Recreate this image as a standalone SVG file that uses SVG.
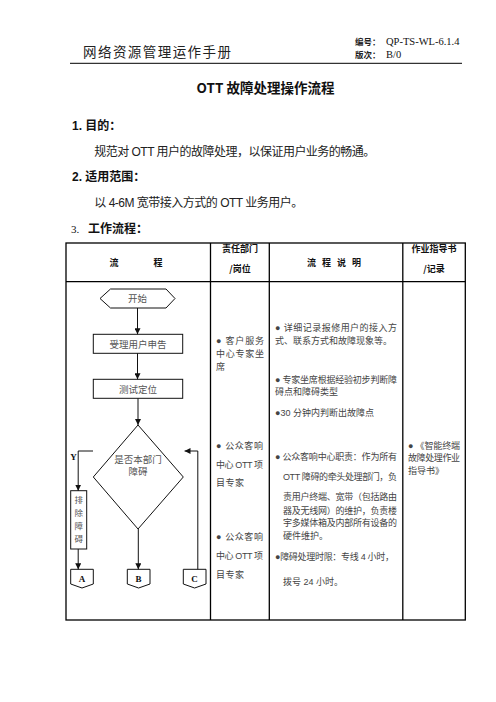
<svg xmlns="http://www.w3.org/2000/svg" width="496" height="702" viewBox="0 0 496 702">
<style>
.cjk{font-family:"Noto Sans CJK SC","Liberation Sans",sans-serif}
.hd{font-family:"Noto Sans CJK SC","Liberation Sans",sans-serif;font-weight:bold;font-size:9px;fill:#111}
.body{font-family:"Liberation Sans","Noto Sans CJK SC",sans-serif;font-size:12px;fill:#222}
.sec{font-family:"Liberation Sans","Noto Sans CJK SC",sans-serif;font-size:12px;font-weight:bold;fill:#111}
.cell{font-family:"Liberation Sans","Noto Sans CJK SC",sans-serif;font-size:9px;fill:#444}
.fl{font-family:"Noto Sans CJK SC",sans-serif;font-size:9.5px;fill:#555;text-anchor:middle}
.vt{font-family:"Noto Sans CJK SC",sans-serif;font-size:8.5px;fill:#555;text-anchor:middle}
.shape{fill:#fff;stroke:#111;stroke-width:1}
.grid{stroke:#000;stroke-width:1.3;fill:none}
.conn{stroke:#111;stroke-width:1;fill:none}
.lab{font-family:"Liberation Serif",serif;font-size:9px;font-weight:bold;fill:#111;text-anchor:middle}
</style>
<defs>
<marker id="ah" viewBox="0 0 8 8" refX="8" refY="4" markerWidth="6" markerHeight="6" orient="auto" markerUnits="userSpaceOnUse">
<path d="M0,0 L8,4 L0,8 Z" fill="#111"/>
</marker>
</defs>
<rect width="496" height="702" fill="#fff"/>

<g id="page-header">
<text x="83" y="57" class="cjk" font-size="13.5" fill="#222" textLength="148" lengthAdjust="spacing">网络资源管理运作手册</text>
<text x="355" y="44.5" class="cjk" font-size="8.5" font-weight="bold" fill="#222">编号：</text>
<text x="386" y="45" font-family="Liberation Serif,serif" font-size="10.5" fill="#111">QP-TS-WL-6.1.4</text>
<text x="355" y="57.5" class="cjk" font-size="8.5" font-weight="bold" fill="#222">版次：</text>
<text x="386" y="58" font-family="Liberation Serif,serif" font-size="10.5" fill="#111">B/0</text>
<line x1="70" y1="63.3" x2="462" y2="63.3" stroke="#000" stroke-width="1"/>
</g>

<g id="title">
<text x="265.5" y="93" class="cjk" font-size="13.5" font-weight="bold" text-anchor="middle" fill="#111">OTT 故障处理操作流程</text>
</g>

<g id="sections">
<text x="72" y="129.5" class="sec">1.  目的：</text>
<text x="94.3" y="156" class="body" textLength="281" lengthAdjust="spacing">规范对 OTT 用户的故障处理，以保证用户业务的畅通。</text>
<text x="72" y="181" class="sec">2.  适用范围：</text>
<text x="94.3" y="207" class="body" textLength="209" lengthAdjust="spacing">以 4-6M 宽带接入方式的 OTT 业务用户。</text>
<text x="71" y="232.5" font-family="Liberation Serif,serif" font-size="11" fill="#111">3.</text>
<text x="88" y="232.5" class="sec">工作流程：</text>
</g>

<g id="table">
<rect x="66" y="243" width="399.3" height="377" class="grid"/>
<line x1="66" y1="281.7" x2="465.3" y2="281.7" class="grid"/>
<line x1="210.5" y1="243" x2="210.5" y2="620" class="grid"/>
<line x1="269.3" y1="243" x2="269.3" y2="620" class="grid"/>
<line x1="402.8" y1="243" x2="402.8" y2="620" class="grid"/>
<text x="114" y="266" class="hd" text-anchor="middle">流</text>
<text x="158" y="266" class="hd" text-anchor="middle">程</text>
<text x="240" y="252" class="hd" text-anchor="middle">责任部门</text>
<text x="240" y="271.5" class="hd" text-anchor="middle">/岗位</text>
<text x="337" y="266" class="hd" text-anchor="middle" letter-spacing="6">流程说明</text>
<text x="434" y="252" class="hd" text-anchor="middle">作业指导书</text>
<text x="434" y="271.5" class="hd" text-anchor="middle">/记录</text>
</g>

<g id="dept">
<text x="216" y="343.5" class="cell" textLength="48" lengthAdjust="spacing">● 客户服务</text>
<text x="216" y="357" class="cell" textLength="48" lengthAdjust="spacing">中心专家坐</text>
<text x="216" y="369.5" class="cell">席</text>
<text x="216" y="448.5" class="cell" textLength="47" lengthAdjust="spacing">● 公众客响</text>
<text x="216" y="468" class="cell" textLength="47" lengthAdjust="spacing">中心 OTT 项</text>
<text x="216" y="486" class="cell" textLength="28" lengthAdjust="spacing">目专家</text>
<text x="216" y="539.5" class="cell" textLength="47" lengthAdjust="spacing">● 公众客响</text>
<text x="216" y="558.5" class="cell" textLength="47" lengthAdjust="spacing">中心 OTT 项</text>
<text x="216" y="577.5" class="cell" textLength="28" lengthAdjust="spacing">目专家</text>
</g>

<g id="desc">
<text x="275" y="331" class="cell" textLength="122" lengthAdjust="spacing">● 详细记录报修用户的接入方</text>
<text x="275" y="343.5" class="cell">式、联系方式和故障现象等。</text>
<text x="275" y="383" class="cell" textLength="122" lengthAdjust="spacing">● 专家坐席根据经验初步判断障</text>
<text x="275" y="395" class="cell">碍点和障碍类型</text>
<text x="275" y="416" class="cell">●30 分钟内判断出故障点</text>
<text x="275" y="460" class="cell" textLength="122" lengthAdjust="spacing">● 公众客响中心职责：作为所有</text>
<text x="283" y="480" class="cell" textLength="114" lengthAdjust="spacing">OTT 障碍的牵头处理部门，负</text>
<text x="283" y="500" class="cell" textLength="114" lengthAdjust="spacing">责用户终端、宽带（包括路由</text>
<text x="283" y="513.5" class="cell" textLength="114" lengthAdjust="spacing">器及无线网）的维护，负责楼</text>
<text x="283" y="525.5" class="cell" textLength="114" lengthAdjust="spacing">宇多媒体箱及内部所有设备的</text>
<text x="283" y="538.5" class="cell">硬件维护。</text>
<text x="275" y="559.5" class="cell" textLength="119" lengthAdjust="spacing">●障碍处理时限：专线 4 小时，</text>
<text x="283" y="585" class="cell">拨号 24 小时。</text>
</g>

<g id="record">
<text x="408" y="448.5" class="cell" textLength="52" lengthAdjust="spacing">● 《智能终端</text>
<text x="408" y="460.5" class="cell" textLength="52" lengthAdjust="spacing">故障处理作业</text>
<text x="408" y="473.5" class="cell">指导书》</text>
</g>

<g id="start">
<polygon points="100,298.5 110.5,289 166,289 175,298.5 166,308 110.5,308" class="shape"/>
<text x="137.5" y="302" class="fl">开始</text>
</g>
<g id="accept">
<rect x="93.3" y="334.3" width="89.4" height="19" class="shape"/>
<text x="138" y="347.5" class="fl">受理用户申告</text>
</g>
<g id="test">
<rect x="93.3" y="379.3" width="89.4" height="19" class="shape"/>
<text x="138" y="392.5" class="fl">测试定位</text>
</g>
<g id="decision">
<polygon points="138,425 183.3,477 138,529 93.3,477" class="shape"/>
<text x="138" y="462.5" class="fl">是否本部门</text>
<text x="138" y="475" class="fl">障碍</text>
</g>
<g id="remove">
<rect x="70.7" y="490.7" width="16" height="58.3" class="shape"/>
<text x="78.7" y="503" class="vt">排</text>
<text x="78.7" y="516" class="vt">除</text>
<text x="78.7" y="529" class="vt">障</text>
<text x="78.7" y="542" class="vt">碍</text>
</g>
<g id="conn-A">
<polygon points="70.7,569.3 93.3,569.3 93.3,584 82,588 70.7,584" class="shape"/>
<text x="82" y="581.5" class="lab">A</text>
</g>
<g id="conn-B">
<polygon points="127.3,569.3 150,569.3 150,584 138.6,588 127.3,584" class="shape"/>
<text x="138.6" y="581.5" class="lab">B</text>
</g>
<g id="conn-C">
<polygon points="183.3,569.3 206,569.3 206,584 194.6,588 183.3,584" class="shape"/>
<text x="194.6" y="581.5" class="lab">C</text>
</g>
<text x="73.5" y="460" font-family="Liberation Serif,serif" font-size="9" font-weight="bold" fill="#111" text-anchor="middle">Y</text>

<g id="connectors">
<line x1="137.5" y1="308" x2="137.5" y2="334.3" class="conn" marker-end="url(#ah)"/>
<line x1="137.5" y1="353.3" x2="137.5" y2="379.3" class="conn" marker-end="url(#ah)"/>
<line x1="138" y1="398.3" x2="138" y2="425" class="conn" marker-end="url(#ah)"/>
<polyline points="93,451 78.2,451 78.2,490.7" class="conn" marker-end="url(#ah)"/>
<line x1="78.2" y1="549" x2="78.2" y2="569.3" class="conn" marker-end="url(#ah)"/>
<line x1="138.3" y1="529" x2="138.3" y2="569.3" class="conn" marker-end="url(#ah)"/>
<polyline points="197.8,569.3 197.8,451 184.5,451" class="conn" marker-end="url(#ah)"/>
</g>
</svg>
